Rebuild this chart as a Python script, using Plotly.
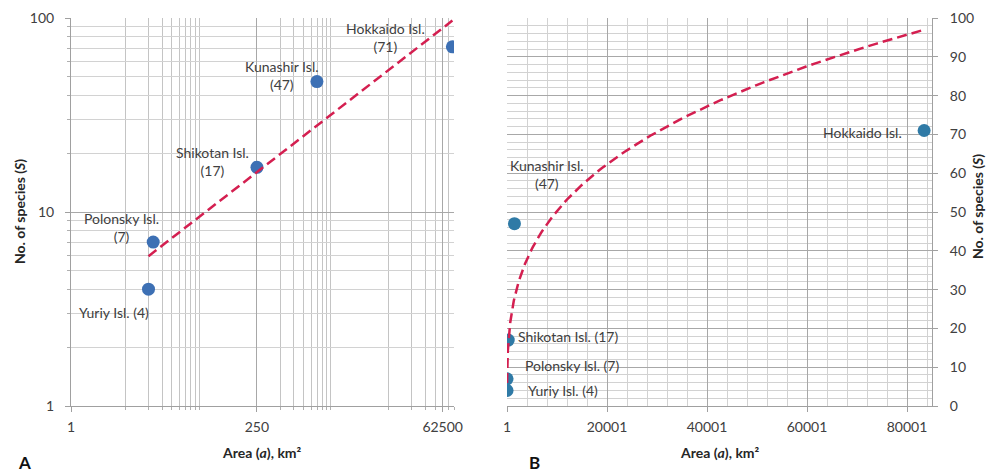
import numpy as np
import plotly.graph_objects as go

# ---------------- data ----------------
islands = ["Yuriy Isl.", "Polonsky Isl.", "Shikotan Isl.", "Kunashir Isl.", "Hokkaido Isl."]
area_km2 = [10, 11.5, 251, 1490, 83424]
species = [4, 7, 17, 47, 71]

a_xticks = [1, 250, 62500]
a_yticks = [1, 10, 100]
b_xticks = [1, 20001, 40001, 60001, 80001]
b_yticks = [0, 10, 20, 30, 40, 50, 60, 70, 80, 90, 100]

# power-law trend line (least-squares fit in log-log space, like Excel's power trendline)
lx = np.log10(area_km2)
ly = np.log10(species)
z, logc = np.polyfit(lx, ly, 1)
fit_x = np.geomspace(min(area_km2), max(area_km2), 300)
fit_y = 10 ** (logc + z * np.log10(fit_x))

# ---------------- geometry (body margin removed by post_script) ----------------
W, H = 992, 473


def px(x):
    return x / W


def py(y):
    return 1 - y / H


FONT = "Lato"
TXT = "#404040"
MAJ = "#a8a8a8"
MIN = "#d2d2d2"
LINE_COLOR = "#d41f50"
DOM_Y = [py(406), py(18)]
DOM_A = [px(71), px(454)]
DOM_B = [px(507), px(932)]

# minor grid positions for panel A (as drawn by the original spreadsheet)
a_minor_x = ([5 * k for k in range(1, 10)] + [250 * k for k in range(2, 10)]
             + [12500 * k for k in (1, 2, 3, 4, 6, 7)])
a_minor_y = [k for k in range(2, 10)] + [10 * k for k in range(2, 10)]

fig = go.Figure()

# Panel A
fig.add_trace(go.Scatter(x=area_km2, y=species, mode="markers", xaxis="x", yaxis="y",
                         marker=dict(size=13, color="#3d70b4"), showlegend=False, hoverinfo="skip"))
fig.add_trace(go.Scatter(x=fit_x, y=fit_y, mode="lines", xaxis="x", yaxis="y",
                         line=dict(color=LINE_COLOR, width=2.5, dash="10px,5px"),
                         showlegend=False, hoverinfo="skip"))
# Panel B
fig.add_trace(go.Scatter(x=area_km2, y=species, mode="markers", xaxis="x2", yaxis="y2",
                         marker=dict(size=13, color="#2f7aa6"), showlegend=False, hoverinfo="skip"))
fig.add_trace(go.Scatter(x=fit_x, y=fit_y, mode="lines", xaxis="x2", yaxis="y2",
                         line=dict(color=LINE_COLOR, width=2.5, dash="10px,5px"),
                         showlegend=False, hoverinfo="skip"))

tickfont = dict(family=FONT, size=14, color=TXT)
common = dict(showgrid=True, gridcolor=MAJ, gridwidth=1, showline=True, linecolor="#a0a0a0",
              linewidth=1, ticks="outside", ticklen=5, tickcolor="#a0a0a0", tickfont=tickfont,
              zeroline=False, fixedrange=True, automargin=False)

fig.update_layout(
    width=W, height=H,
    margin=dict(l=0, r=0, t=0, b=0, autoexpand=False),
    paper_bgcolor="white", plot_bgcolor="white",
    xaxis=dict(type="log", domain=DOM_A, range=[0, np.log10(87500)],
               tickvals=a_xticks, ticktext=[str(v) for v in a_xticks], ticklabelstandoff=3,
               minor=dict(tickvals=a_minor_x, showgrid=True, gridcolor="#c4c4c4", gridwidth=1,
                          ticks="outside", ticklen=3, tickcolor="#b0b0b0"),
               anchor="y", **common),
    yaxis=dict(type="log", domain=DOM_Y, range=[0, 2],
               tickvals=a_yticks, ticktext=[str(v) for v in a_yticks], ticklabelstandoff=8,
               minor=dict(tickvals=a_minor_y, showgrid=True, gridcolor=MIN, gridwidth=1,
                          ticks="outside", ticklen=3, tickcolor="#b0b0b0"),
               anchor="x", **common),
    xaxis2=dict(domain=DOM_B, range=[1, 85001],
                tickvals=b_xticks, ticktext=[str(v) for v in b_xticks], ticklabelstandoff=3,
                minor=dict(dtick=4000, tick0=1, showgrid=True, gridcolor=MIN, gridwidth=1),
                anchor="y2", **common),
    yaxis2=dict(domain=DOM_Y, range=[0, 100], side="right",
                tickvals=b_yticks, ticktext=[str(v) for v in b_yticks], ticklabelstandoff=9,
                minor=dict(dtick=2, showgrid=True, gridcolor=MIN, gridwidth=1),
                anchor="x2", **common),
)

# ---------------- point labels ----------------
lab_font = dict(family=FONT, size=14, color=TXT)
a_texts = [f"{islands[0]} ({species[0]})",
           f"{islands[1]}<br>({species[1]})",
           f"{islands[2]}<br>({species[2]})",
           f"{islands[3]}<br>({species[3]})",
           f"{islands[4]}<br>({species[4]})"]
a_shift = [(-35, -23), (-32, 15), (-44, 6), (-35, 6), (-67, 9)]
b_texts = [f"{islands[0]} ({species[0]})",
           f"{islands[1]} ({species[1]})",
           f"{islands[2]} ({species[2]})",
           f"{islands[3]}<br>({species[3]})",
           f"{islands[4]}"]
b_shift = [(56, 0), (65, 13), (60, 4), (33, 49), (-62, -2)]

for i in range(len(islands)):
    fig.add_annotation(x=np.log10(area_km2[i]), y=np.log10(species[i]), xref="x", yref="y",
                       text=a_texts[i], showarrow=False, xshift=a_shift[i][0], yshift=a_shift[i][1],
                       xanchor="center", yanchor="middle", font=lab_font, align="center")
    fig.add_annotation(x=area_km2[i], y=species[i], xref="x2", yref="y2",
                       text=b_texts[i], showarrow=False, xshift=b_shift[i][0], yshift=b_shift[i][1],
                       xanchor="center", yanchor="middle", font=lab_font, align="center")

# ---------------- axis titles & panel letters ----------------
title_font = dict(family=FONT, size=14, color="#262626")
ytitle = "<b>No. of species (<i>S</i>)</b>"
xtitle = "<b>Area (<i>a</i>), km²</b>"
paper_notes = [
    (20, 212, ytitle, -90, title_font),
    (977, 207, ytitle, -90, title_font),
    (262, 452, xtitle, 0, title_font),
    (720, 452, xtitle, 0, title_font),
    (24, 462, "<b>A</b>", 0, dict(family=FONT, size=17, color="#111")),
    (534, 462, "<b>B</b>", 0, dict(family=FONT, size=17, color="#111")),
]
for x0, y0, t, ang, f in paper_notes:
    fig.add_annotation(x=px(x0), y=py(y0), xref="paper", yref="paper", text=t, textangle=ang,
                       showarrow=False, xanchor="center", yanchor="middle", font=f)

fig.write_html("out.html", config={"displayModeBar": False, "staticPlot": True},
               post_script="document.body.style.margin='0px';")
